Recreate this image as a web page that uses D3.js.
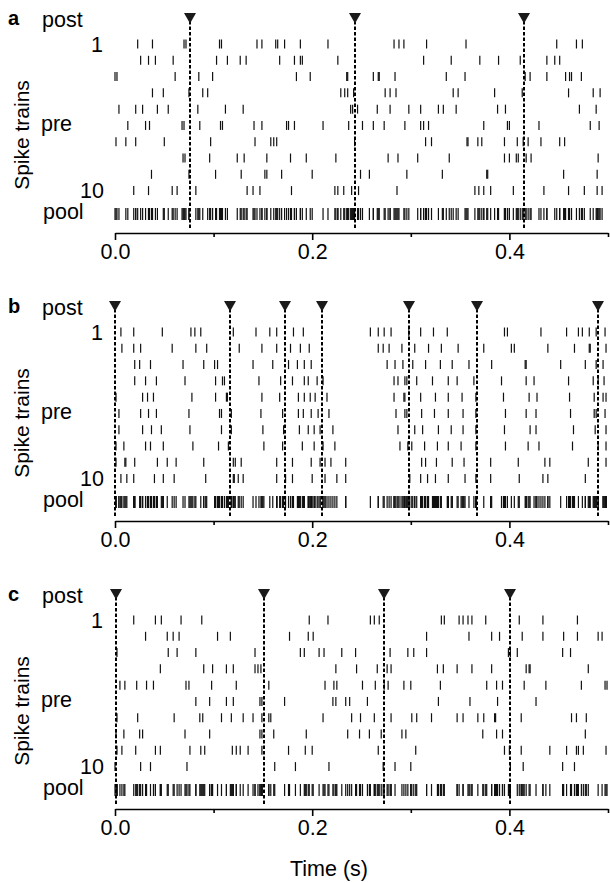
<!DOCTYPE html>
<html>
<head>
  <meta charset="utf-8">
  <script src="https://d3js.org/d3.v7.min.js"></script>
  <style>
    body { margin: 0; background: #fff; }
    text { font-family: "Liberation Sans", Arial, Helvetica, sans-serif; fill: #000; }
  </style>
</head>
<body>
  <div id="chart"></div>

  <script>
    // spike times in seconds
    const postA = [0.076, 0.243, 0.415];
    const trainsA = [
      [0.023, 0.038, 0.070, 0.072, 0.106, 0.108, 0.144, 0.149, 0.163, 0.165, 0.172, 0.188, 0.216, 0.283, 0.288, 0.293, 0.316, 0.356, 0.448, 0.468, 0.474],
      [0.026, 0.034, 0.041, 0.059, 0.103, 0.114, 0.127, 0.133, 0.167, 0.182, 0.188, 0.190, 0.226, 0.313, 0.341, 0.370, 0.389, 0.411, 0.438, 0.446, 0.451],
      [0.000, 0.002, 0.061, 0.085, 0.099, 0.184, 0.198, 0.235, 0.236, 0.262, 0.267, 0.268, 0.284, 0.336, 0.355, 0.416, 0.421, 0.438, 0.457, 0.461, 0.463, 0.473],
      [0.038, 0.049, 0.075, 0.089, 0.094, 0.229, 0.233, 0.236, 0.242, 0.274, 0.279, 0.285, 0.343, 0.348, 0.385, 0.413, 0.460, 0.485, 0.492],
      [0.004, 0.021, 0.028, 0.043, 0.054, 0.084, 0.112, 0.130, 0.239, 0.241, 0.246, 0.266, 0.279, 0.298, 0.310, 0.328, 0.333, 0.346, 0.388, 0.396, 0.471, 0.488],
      [0.013, 0.031, 0.035, 0.068, 0.070, 0.086, 0.107, 0.109, 0.141, 0.149, 0.174, 0.176, 0.182, 0.211, 0.237, 0.251, 0.262, 0.273, 0.294, 0.310, 0.313, 0.318, 0.374, 0.398, 0.400, 0.430, 0.482, 0.491],
      [0.001, 0.011, 0.021, 0.050, 0.097, 0.142, 0.158, 0.161, 0.164, 0.243, 0.315, 0.321, 0.357, 0.358, 0.368, 0.372, 0.395, 0.408, 0.414, 0.419, 0.432, 0.451, 0.456],
      [0.069, 0.071, 0.096, 0.124, 0.131, 0.154, 0.178, 0.194, 0.224, 0.277, 0.287, 0.307, 0.339, 0.395, 0.400, 0.407, 0.409, 0.417, 0.422, 0.490],
      [0.037, 0.075, 0.102, 0.128, 0.152, 0.154, 0.169, 0.200, 0.249, 0.258, 0.296, 0.332, 0.377, 0.378, 0.455, 0.489],
      [0.019, 0.034, 0.058, 0.063, 0.082, 0.134, 0.140, 0.147, 0.179, 0.223, 0.226, 0.232, 0.240, 0.247, 0.286, 0.365, 0.369, 0.374, 0.381, 0.404, 0.435, 0.460, 0.476, 0.489, 0.494]
    ];

    const postB = [0.000, 0.117, 0.172, 0.210, 0.298, 0.367, 0.490];
    const trainsB = [
      [0.006, 0.019, 0.048, 0.077, 0.081, 0.087, 0.120, 0.143, 0.157, 0.164, 0.181, 0.191, 0.259, 0.267, 0.273, 0.280, 0.298, 0.310, 0.323, 0.337, 0.395, 0.398, 0.432, 0.458, 0.470, 0.474, 0.481, 0.488, 0.497],
      [0.007, 0.019, 0.026, 0.058, 0.082, 0.093, 0.126, 0.149, 0.164, 0.178, 0.188, 0.197, 0.267, 0.272, 0.278, 0.291, 0.304, 0.318, 0.331, 0.348, 0.374, 0.402, 0.405, 0.439, 0.466, 0.481, 0.482, 0.498],
      [0.020, 0.025, 0.036, 0.069, 0.090, 0.101, 0.104, 0.140, 0.160, 0.176, 0.185, 0.192, 0.199, 0.276, 0.284, 0.292, 0.302, 0.315, 0.330, 0.342, 0.359, 0.382, 0.416, 0.417, 0.452, 0.477, 0.488, 0.495],
      [0.020, 0.031, 0.042, 0.071, 0.102, 0.109, 0.111, 0.146, 0.168, 0.180, 0.192, 0.196, 0.205, 0.211, 0.283, 0.287, 0.294, 0.296, 0.306, 0.322, 0.338, 0.347, 0.364, 0.392, 0.417, 0.425, 0.460, 0.485, 0.490, 0.496],
      [0.001, 0.028, 0.033, 0.039, 0.078, 0.102, 0.113, 0.114, 0.149, 0.167, 0.186, 0.192, 0.198, 0.203, 0.215, 0.283, 0.293, 0.294, 0.310, 0.325, 0.338, 0.352, 0.366, 0.394, 0.420, 0.428, 0.461, 0.486, 0.495, 0.498],
      [0.004, 0.026, 0.034, 0.042, 0.075, 0.106, 0.108, 0.118, 0.148, 0.170, 0.186, 0.191, 0.199, 0.206, 0.217, 0.285, 0.294, 0.296, 0.311, 0.324, 0.338, 0.353, 0.366, 0.396, 0.417, 0.427, 0.462, 0.486, 0.488, 0.497],
      [0.004, 0.028, 0.037, 0.047, 0.076, 0.108, 0.118, 0.150, 0.171, 0.187, 0.196, 0.202, 0.208, 0.221, 0.287, 0.304, 0.312, 0.328, 0.341, 0.353, 0.366, 0.395, 0.421, 0.427, 0.465, 0.487, 0.498],
      [0.001, 0.009, 0.031, 0.036, 0.049, 0.079, 0.105, 0.115, 0.151, 0.170, 0.190, 0.202, 0.211, 0.223, 0.289, 0.297, 0.301, 0.314, 0.327, 0.338, 0.351, 0.366, 0.396, 0.419, 0.430, 0.464, 0.490, 0.498],
      [0.001, 0.010, 0.011, 0.020, 0.043, 0.053, 0.062, 0.090, 0.120, 0.122, 0.128, 0.164, 0.180, 0.199, 0.208, 0.213, 0.219, 0.234, 0.311, 0.315, 0.326, 0.342, 0.354, 0.381, 0.409, 0.436, 0.441, 0.480, 0.498],
      [0.006, 0.012, 0.019, 0.040, 0.049, 0.060, 0.092, 0.120, 0.121, 0.125, 0.130, 0.164, 0.173, 0.180, 0.200, 0.213, 0.225, 0.234, 0.299, 0.310, 0.317, 0.325, 0.338, 0.355, 0.366, 0.381, 0.410, 0.434, 0.439, 0.477]
    ];

    const postC = [0.001, 0.151, 0.273, 0.401];
    const trainsC = [
      [0.019, 0.041, 0.047, 0.067, 0.088, 0.197, 0.216, 0.259, 0.263, 0.268, 0.331, 0.334, 0.349, 0.353, 0.358, 0.362, 0.376, 0.410, 0.434, 0.469],
      [0.031, 0.053, 0.059, 0.065, 0.104, 0.117, 0.177, 0.196, 0.201, 0.316, 0.359, 0.382, 0.390, 0.413, 0.434, 0.455, 0.469, 0.490, 0.494],
      [0.002, 0.054, 0.063, 0.082, 0.142, 0.188, 0.192, 0.207, 0.212, 0.230, 0.244, 0.279, 0.297, 0.303, 0.316, 0.399, 0.401, 0.408, 0.454, 0.462],
      [0.046, 0.090, 0.099, 0.113, 0.120, 0.142, 0.145, 0.148, 0.224, 0.245, 0.266, 0.276, 0.280, 0.327, 0.333, 0.347, 0.362, 0.382, 0.417, 0.420, 0.421, 0.480],
      [0.005, 0.010, 0.022, 0.032, 0.039, 0.072, 0.075, 0.098, 0.123, 0.156, 0.213, 0.222, 0.225, 0.251, 0.264, 0.273, 0.277, 0.293, 0.300, 0.330, 0.377, 0.387, 0.393, 0.415, 0.437, 0.473, 0.497, 0.499],
      [0.082, 0.096, 0.113, 0.120, 0.147, 0.149, 0.172, 0.221, 0.224, 0.234, 0.238, 0.256, 0.328, 0.360, 0.388, 0.427],
      [0.002, 0.023, 0.060, 0.086, 0.089, 0.108, 0.118, 0.130, 0.140, 0.149, 0.156, 0.158, 0.211, 0.240, 0.249, 0.263, 0.280, 0.301, 0.306, 0.321, 0.347, 0.353, 0.368, 0.374, 0.385, 0.386, 0.412, 0.463, 0.468, 0.478],
      [0.001, 0.009, 0.025, 0.028, 0.071, 0.096, 0.147, 0.149, 0.161, 0.194, 0.236, 0.248, 0.258, 0.270, 0.291, 0.295, 0.373, 0.387, 0.393, 0.477],
      [0.002, 0.007, 0.021, 0.041, 0.046, 0.076, 0.087, 0.091, 0.119, 0.123, 0.127, 0.135, 0.149, 0.176, 0.193, 0.200, 0.267, 0.305, 0.395, 0.400, 0.412, 0.441, 0.458, 0.468, 0.470, 0.475, 0.498],
      [0.000, 0.026, 0.036, 0.073, 0.162, 0.183, 0.217, 0.272, 0.284, 0.300, 0.401, 0.414, 0.454, 0.466]
    ];

    const panelLabels = ["a", "b", "c"];
    const majorTicks = [0, 0.2, 0.4];
    const minorTicks = [0.1, 0.3, 0.5];

    const panels = [
      { label: panelLabels[0], post: postA, trains: trainsA },
      { label: panelLabels[1], post: postB, trains: trainsB },
      { label: panelLabels[2], post: postC, trains: trainsC }
    ];

    const width = 610, height = 883;
    const panelStep = 288;
    const postY = 18, poolY = 214, axisY = 233;
    const fs = 21.5;

    const x = d3.scaleLinear().domain([0, 0.5]).range([115, 608]);
    const row = d3.scaleLinear().domain([1, 10]).range([44, 190.6]);

    const svg = d3.select("#chart")
      .append("svg")
      .attr("width", width)
      .attr("height", height);

    panels.forEach((p, i) => {
      const g = svg.append("g")
        .attr("transform", `translate(0,${i * panelStep})`);

      // pre-synaptic trains
      p.trains.forEach((train, k) => {
        g.append("g")
          .selectAll("line")
          .data(train)
          .enter().append("line")
          .attr("x1", d => x(d))
          .attr("x2", d => x(d))
          .attr("y1", row(k + 1) - 4.5)
          .attr("y2", row(k + 1) + 4.5)
          .attr("stroke", "#111")
          .attr("stroke-width", 1.2);
      });

      // pooled spikes = all trains together
      const pool = d3.merge(p.trains);
      g.append("g")
        .selectAll("line")
        .data(pool)
        .enter().append("line")
        .attr("x1", d => x(d))
        .attr("x2", d => x(d))
        .attr("y1", poolY - 6)
        .attr("y2", poolY + 6)
        .attr("stroke", "#111")
        .attr("stroke-width", 1.2);

      // post spikes: dashed line + triangle
      g.append("g")
        .selectAll("line")
        .data(p.post)
        .enter().append("line")
        .attr("x1", d => Math.round(x(d)))
        .attr("x2", d => Math.round(x(d)))
        .attr("y1", postY + 3)
        .attr("y2", axisY - 5)
        .attr("stroke", "#000")
        .attr("stroke-width", 2)
        .attr("stroke-dasharray", "3.5,2");

      g.append("g")
        .selectAll("path")
        .data(p.post)
        .enter().append("path")
        .attr("d", d => `M${Math.round(x(d)) - 6},${postY - 5}L${Math.round(x(d)) + 6},${postY - 5}L${Math.round(x(d))},${postY + 5.5}Z`)
        .attr("fill", "#1a1a1a");

      // axis
      const axisG = g.append("g")
        .attr("transform", `translate(0,${axisY})`)
        .call(d3.axisBottom(x).tickValues(majorTicks).tickSize(7).tickSizeOuter(0).tickFormat(d3.format(".1f")).tickPadding(4));
      axisG.select(".domain").attr("stroke-width", 1.6);
      axisG.selectAll(".tick line").attr("stroke-width", 1.6);
      axisG.selectAll(".tick text")
        .attr("font-size", fs)
        .attr("font-family", "Liberation Sans, Arial, sans-serif");

      const minorG = g.append("g")
        .attr("transform", `translate(0,${axisY})`)
        .call(d3.axisBottom(x).tickValues(minorTicks).tickSize(4).tickSizeOuter(0).tickFormat(""));
      minorG.select(".domain").remove();
      minorG.selectAll(".tick line").attr("stroke-width", 1.6);

      // labels
      g.append("text")
        .attr("x", 8).attr("y", 25)
        .attr("font-size", 20).attr("font-weight", "bold")
        .text(p.label);

      g.append("text").attr("x", 42).attr("y", 26.5).attr("font-size", fs).text("post");
      g.append("text").attr("x", 103).attr("y", 52).attr("font-size", fs)
        .attr("text-anchor", "end").text("1");
      g.append("text").attr("x", 41).attr("y", 130.5).attr("font-size", fs).text("pre");
      g.append("text").attr("x", 104).attr("y", 198).attr("font-size", fs)
        .attr("text-anchor", "end").text("10");
      g.append("text").attr("x", 43).attr("y", 219).attr("font-size", fs).text("pool");

      g.append("text")
        .attr("transform", "translate(29,135) rotate(-90)")
        .attr("text-anchor", "middle")
        .attr("font-size", 21)
        .text("Spike trains");
    });

    svg.append("text")
      .attr("x", 329).attr("y", 876)
      .attr("text-anchor", "middle")
      .attr("font-size", fs)
      .text("Time (s)");
  </script>
</body>
</html>
